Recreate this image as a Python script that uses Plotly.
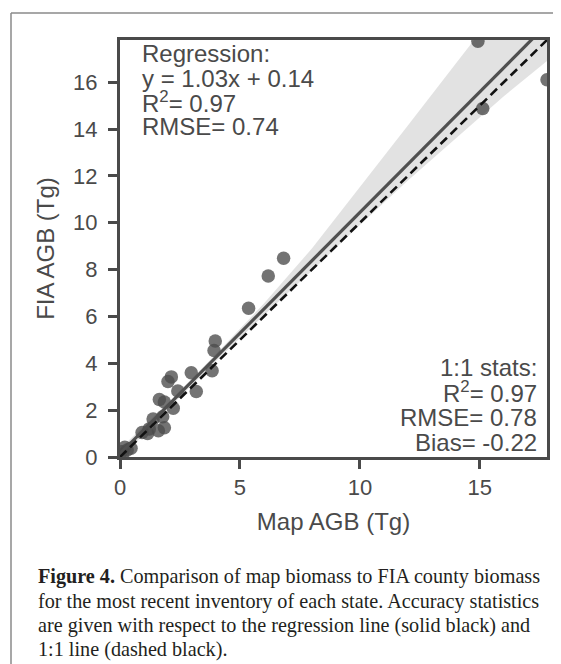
import plotly.graph_objects as go

# ---------------- data ----------------
map_agb = [14.92, 17.80, 15.12, 6.82, 6.18, 5.36, 3.97, 3.92, 3.84, 2.97, 3.18,
           2.14, 2.00, 2.41, 1.64, 2.22, 1.85, 1.38, 1.78, 1.85, 1.60, 1.22,
           0.92, 1.15, 0.20, 0.46, 0.05, 0.30, 0.10]
fia_agb = [17.75, 16.10, 14.88, 8.48, 7.73, 6.35, 4.95, 4.55, 3.68, 3.60, 2.80,
           3.42, 3.22, 2.82, 2.45, 2.08, 2.35, 1.62, 1.72, 1.25, 1.12, 1.20,
           1.05, 1.00, 0.42, 0.37, 0.22, 0.30, 0.10]

reg_slope = 1.03
reg_intercept = 0.14

band_x = [0, 2, 4, 6, 8, 10, 12, 14, 16, 17.8]
band_hi = [0.35, 2.30, 4.40, 6.55, 8.90, 11.50, 14.15, 16.80, 19.45, 21.80]
band_lo = [-0.10, 2.05, 4.10, 6.05, 7.95, 9.90, 11.80, 13.60, 15.40, 16.90]

axis_max = 17.8
x_ticks = [0, 5, 10, 15]
y_ticks = [0, 2, 4, 6, 8, 10, 12, 14, 16]

reg_lines = ["Regression:", "y = 1.03x + 0.14", "R<sup>2</sup>= 0.97", "RMSE= 0.74"]
one_lines = ["1:1 stats:", "R<sup>2</sup>= 0.97", "RMSE= 0.78", "Bias= -0.22"]
caption_lines = [
    "<b>Figure 4.</b> Comparison of map biomass to FIA county biomass",
    "for the most recent inventory of each state. Accuracy statistics",
    "are given with respect to the regression line (solid black) and",
    "1:1 line (dashed black).",
]

# ---------------- figure ----------------
OFF = 8                      # page body margin of the html page
WIN_W, WIN_H = 561, 664
W, H = WIN_W - OFF, WIN_H - OFF
# plot area in window pixels: left 120, right 547, top 40, bottom 457
L = 120 - OFF
R = W - (547 - OFF)
T = 40 - OFF
B = H - (457 - OFF)
PW, PH = W - L - R, H - T - B

def px(x):  # window pixel -> paper x
    return (x - OFF - L) / PW

def py(y):  # window pixel -> paper y
    return (H - B - (y - OFF)) / PH

GRAY = "#4a4a4a"
SANS = "Liberation Sans, Arial, sans-serif"

fig = go.Figure()

fig.add_trace(go.Scatter(
    x=map_agb, y=fia_agb, mode="markers",
    marker=dict(size=13.5, color="rgba(75,75,75,0.78)", line=dict(width=0)),
    showlegend=False, hoverinfo="skip"))

fig.add_trace(go.Scatter(x=band_x, y=band_lo, mode="lines", line=dict(width=0),
                         showlegend=False, hoverinfo="skip"))
fig.add_trace(go.Scatter(x=band_x, y=band_hi, mode="lines", line=dict(width=0),
                         fill="tonexty", fillcolor="rgba(60,60,60,0.15)",
                         showlegend=False, hoverinfo="skip"))

line_x = [0, axis_max]
fig.add_trace(go.Scatter(x=line_x, y=[reg_slope * v + reg_intercept for v in line_x],
                         mode="lines", line=dict(color="#505050", width=3.2),
                         showlegend=False, hoverinfo="skip"))
fig.add_trace(go.Scatter(x=line_x, y=line_x, mode="lines",
                         line=dict(color="#111111", width=2.6, dash="9px,5px"),
                         showlegend=False, hoverinfo="skip"))

axis_common = dict(range=[0, axis_max], showgrid=False, zeroline=False,
                   showline=True, linecolor=GRAY, linewidth=3, mirror=True,
                   ticks="outside", ticklen=9, tickwidth=3, tickcolor=GRAY,
                   tickfont=dict(family=SANS, size=22, color=GRAY))

fig.update_layout(
    width=W, height=H, margin=dict(l=L, r=R, t=T, b=B),
    paper_bgcolor="white", plot_bgcolor="white",
    xaxis=dict(**axis_common, tickvals=x_ticks,
               title=dict(text="Map AGB (Tg)", font=dict(family=SANS, size=24, color=GRAY),
                          standoff=14)),
    yaxis=dict(**axis_common, tickvals=y_ticks, ticklabelstandoff=6,
               title=dict(text="FIA AGB (Tg)", font=dict(family=SANS, size=24, color=GRAY),
                          standoff=12)),
)

reg_y = [53, 78, 102, 126]
for txt, yy in zip(reg_lines, reg_y):
    fig.add_annotation(xref="paper", yref="paper", x=px(140), y=py(yy), text=txt,
                       showarrow=False, xanchor="left", yanchor="middle",
                       font=dict(family=SANS, size=24, color=GRAY))

one_y = [367, 392, 417, 442]
for txt, yy in zip(one_lines, one_y):
    fig.add_annotation(xref="paper", yref="paper", x=px(539), y=py(yy), text=txt,
                       showarrow=False, xanchor="right", yanchor="middle",
                       font=dict(family=SANS, size=24, color=GRAY))

cap_y = [576, 601, 625, 649]
for txt, yy in zip(caption_lines, cap_y):
    fig.add_annotation(xref="paper", yref="paper", x=px(36), y=py(yy), text=txt,
                       showarrow=False, xanchor="left", yanchor="middle",
                       font=dict(family="Liberation Serif, Times New Roman, serif",
                                 size=20.2, color="#231f20"))

FRAME = "#8a8a8a"
fig.add_shape(type="line", xref="paper", yref="paper", x0=px(11), x1=px(11),
              y0=py(13), y1=py(WIN_H + 5), line=dict(color=FRAME, width=1.5))
fig.add_shape(type="line", xref="paper", yref="paper", x0=px(11), x1=px(WIN_W + 5),
              y0=py(13), y1=py(13), line=dict(color=FRAME, width=1.5))

fig.write_html("out.html")
